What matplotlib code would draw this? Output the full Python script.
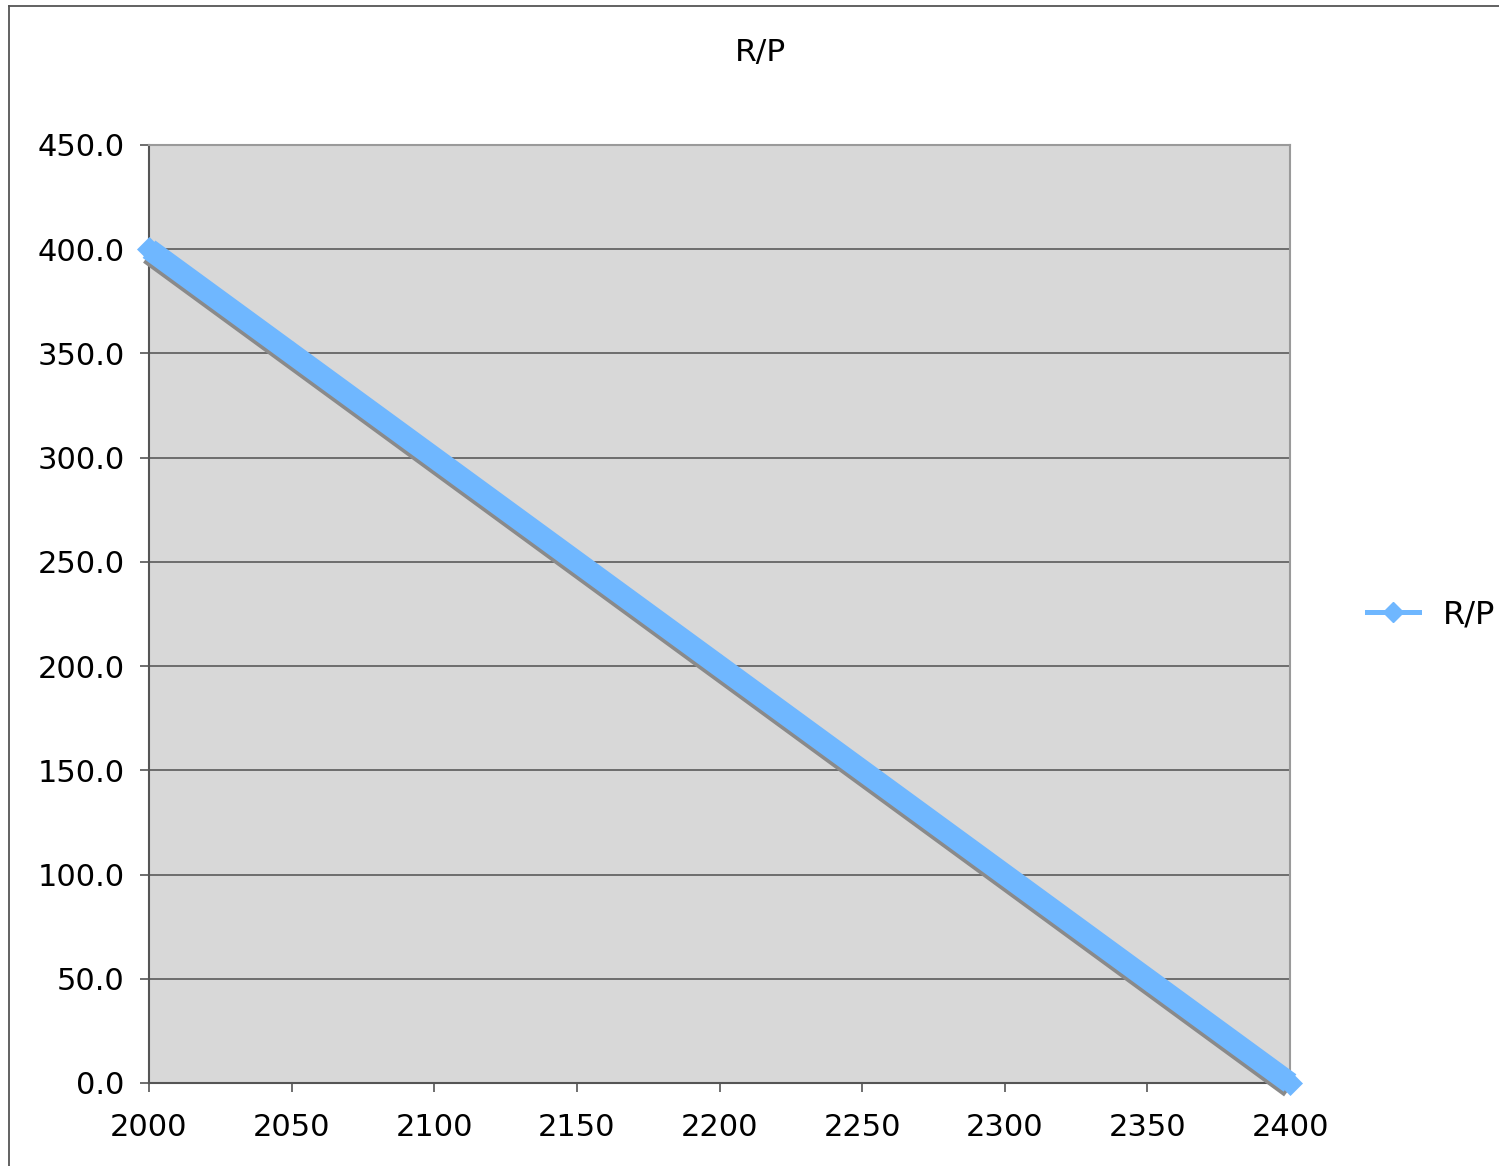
import numpy as np
import matplotlib
matplotlib.use("Agg")
import matplotlib.pyplot as plt
import matplotlib.patheffects as pe
from matplotlib.lines import Line2D
from matplotlib.ticker import FormatStrFormatter

# R/P ratio by year
years = [2000, 2050, 2100, 2150, 2200, 2250, 2300, 2350, 2400]
rp = [400.0, 350.0, 300.0, 250.0, 200.0, 150.0, 100.0, 50.0, 0.0]

x_ticks = [2000, 2050, 2100, 2150, 2200, 2250, 2300, 2350, 2400]
y_ticks = [0, 50, 100, 150, 200, 250, 300, 350, 400, 450]

W, H = 1499, 1166
fig = plt.figure(figsize=(W / 100, H / 100), dpi=100, facecolor="w")
ax = fig.add_axes([149 / W, 1 - 1083 / H, (1290 - 149) / W, (1083 - 145) / H])
ax.set_facecolor("#D8D8D8")

blue = "#6FB7FF"
shadow = [pe.SimpleLineShadow(offset=(0.3, -3.4), shadow_color="#8A8A8A", alpha=1.0),
          pe.Normal()]
ax.plot(years, rp, color=blue, lw=15.5, solid_capstyle="butt",
        clip_on=False, zorder=3, path_effects=shadow)
# diamonds fit inside the band, only their tips stick out at the two ends
ax.plot(years, rp, ls="none", marker="D", markersize=12.5, markerfacecolor=blue,
        markeredgecolor=blue, markeredgewidth=0.5, clip_on=False, zorder=3.2)

ax.set_xlim(2000, 2400)
ax.set_ylim(0, 450)
ax.set_xticks(x_ticks)
ax.set_yticks(y_ticks)
ax.yaxis.set_major_formatter(FormatStrFormatter("%.1f"))
ax.tick_params(axis="both", labelsize=22, length=6.5, width=1.2, color="#555555",
               direction="out")
ax.tick_params(axis="y", pad=11)
ax.tick_params(axis="x", pad=15)

ax.yaxis.grid(True, color="#5A5A5A", lw=1.2)
ax.set_axisbelow(True)
ax.spines["left"].set_color("#555555")
ax.spines["bottom"].set_color("#555555")
ax.spines["top"].set_color("#9A9A9A")
ax.spines["right"].set_color("#9A9A9A")
for s in ax.spines.values():
    s.set_linewidth(1.5)

fig.text(761 / W, 1 - 53 / H, "R/P", ha="center", va="center", fontsize=22.5)

handle = Line2D([], [], color=blue, lw=3.6, marker="D", markersize=10,
                markerfacecolor=blue, markeredgecolor=blue)
fig.legend(handles=[handle], labels=["R/P"], loc="center left",
           bbox_to_anchor=(1367 / W, 1 - 615 / H), frameon=False, fontsize=23,
           borderpad=0, borderaxespad=0, handlelength=1.62, handletextpad=0.75)

# outer chart frame
fig.add_artist(Line2D([9 / W, 9 / W], [0, 1 - 6 / H], color="#555555", lw=1.3))
fig.add_artist(Line2D([9 / W, 1], [1 - 6 / H, 1 - 6 / H], color="#555555", lw=1.3))

fig.savefig("out.png", dpi=100)
